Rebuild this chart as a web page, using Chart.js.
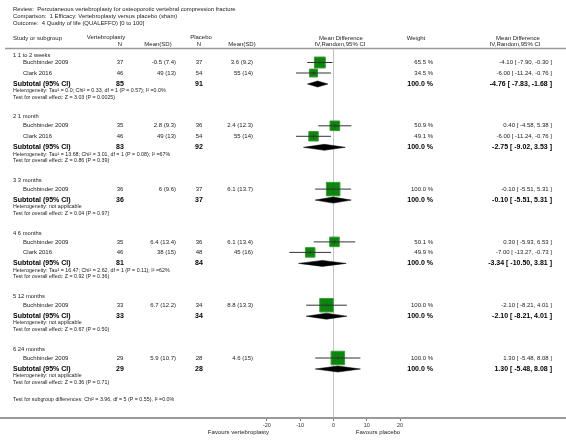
<!DOCTYPE html>
<html>
<head>
  <title>Vertebroplasty forest plot</title>
  <script src="https://cdn.jsdelivr.net/npm/chart.js"></script>
  <style>
    html, body { margin: 0; padding: 0; background: #fff; }
    canvas { display: block; }
  </style>
</head>
<body>
  <canvas id="forest" width="566" height="441"></canvas>

  <script>
    // data
    var titleLines = [
      "Review:  Percutaneous vertebroplasty for osteoporotic vertebral compression fracture",
      "Comparison:  1 Efficacy: Vertebroplasty versus placebo (sham)",
      "Outcome:  4 Quality of life (QUALEFFO) [0 to 100]"
    ];
    var groupLabels = ["1 1 to 2 weeks", "2 1 month", "3 3 months", "4 6 months", "5 12 months", "6 24 months"];

    var studyNames = ["Buchbinder 2009", "Clark 2016", "Buchbinder 2009", "Clark 2016", "Buchbinder 2009",
                      "Buchbinder 2009", "Clark 2016", "Buchbinder 2009", "Buchbinder 2009"];
    var studyGroup = [0, 0, 1, 1, 2, 3, 3, 4, 5];
    var vertN = [37, 46, 35, 46, 36, 35, 46, 33, 29];
    var vertMeanSD = ["-0.5 (7.4)", "49 (13)", "2.8 (9.3)", "49 (13)", "6 (9.6)", "6.4 (13.4)", "38 (15)", "6.7 (12.2)", "5.9 (10.7)"];
    var placN = [37, 54, 36, 54, 37, 36, 48, 34, 28];
    var placMeanSD = ["3.6 (9.2)", "55 (14)", "2.4 (12.3)", "55 (14)", "6.1 (13.7)", "6.1 (13.4)", "45 (16)", "8.8 (13.3)", "4.6 (15)"];
    var weights = [65.5, 34.5, 50.9, 49.1, 100.0, 50.1, 49.9, 100.0, 100.0];
    var md = [-4.10, -6.00, 0.40, -6.00, -0.10, 0.30, -7.00, -2.10, 1.30];
    var mdLow = [-7.90, -11.24, -4.58, -11.24, -5.51, -5.93, -13.27, -8.21, -5.48];
    var mdHigh = [-0.30, -0.76, 5.38, -0.76, 5.31, 6.53, -0.73, 4.01, 8.08];

    var subVertN = [85, 83, 36, 81, 33, 29];
    var subPlacN = [91, 92, 37, 84, 34, 28];
    var subMd = [-4.76, -2.75, -0.10, -3.34, -2.10, 1.30];
    var subLow = [-7.83, -9.02, -5.51, -10.50, -8.21, -5.48];
    var subHigh = [-1.68, 3.53, 5.31, 3.81, 4.01, 8.08];
    var heterogeneity = [
      "Heterogeneity: Tau² = 0.0; Chi² = 0.33, df = 1 (P = 0.57); I² =0.0%",
      "Heterogeneity: Tau² = 13.68; Chi² = 3.01, df = 1 (P = 0.08); I² =67%",
      "Heterogeneity: not applicable",
      "Heterogeneity: Tau² = 16.47; Chi² = 2.62, df = 1 (P = 0.11); I² =62%",
      "Heterogeneity: not applicable",
      "Heterogeneity: not applicable"
    ];
    var overallEffect = [
      "Test for overall effect: Z = 3.03 (P = 0.0025)",
      "Test for overall effect: Z = 0.86 (P = 0.39)",
      "Test for overall effect: Z = 0.04 (P = 0.97)",
      "Test for overall effect: Z = 0.92 (P = 0.36)",
      "Test for overall effect: Z = 0.67 (P = 0.50)",
      "Test for overall effect: Z = 0.36 (P = 0.71)"
    ];
    var subgroupTest = "Test for subgroup differences: Chi² = 3.96, df = 5 (P = 0.55), I² =0.0%";
    var xTicks = [-20, -10, 0, 10, 20];
    var favoursLeft = "Favours vertebroplasty";
    var favoursRight = "Favours placebo";

    // row layout (pixel rows, y scale maps 1:1)
    var labelY = [], studyY = [], subY = [], hetY = [], testY = [];
    var y = 55;
    for (var g = 0; g < groupLabels.length; g++) {
      labelY.push(y);
      y += (g === 0 ? 7.5 : 9);
      var first = true;
      for (var s = 0; s < studyGroup.length; s++) {
        if (studyGroup[s] !== g) continue;
        if (!first) y += 10.5;
        studyY[s] = y;
        first = false;
      }
      y += 11; subY.push(y);
      y += 6.8; hetY.push(y);
      y += 6.4; testY.push(y);
      y += 19.6;
    }
    var subgroupY = y - 1.8;

    var fmt = function(v) { return v.toFixed(2); };
    var ciText = function(m, l, h) { return fmt(m) + " [ " + fmt(l) + ", " + fmt(h) + " ]"; };

    // datasets
    var datasets = [];
    datasets.push({
      label: "studies",
      data: md.map(function(v, i) { return { x: v, y: studyY[i] }; }),
      showLine: false,
      pointStyle: "rect",
      pointRadius: weights.map(function(w) { return 13.5 * Math.sqrt(w / 100) / Math.SQRT2; }),
      backgroundColor: "#0b870b",
      borderColor: "#3a9c3a",
      borderWidth: 1,
      order: 3
    });
    datasets.push({
      label: "centres",
      data: md.map(function(v, i) { return { x: v, y: studyY[i] }; }),
      showLine: false,
      pointStyle: "line",
      rotation: 90,
      pointRadius: 1.6,
      borderColor: "#333",
      borderWidth: 0.8,
      order: 0
    });
    for (var i = 0; i < md.length; i++) {
      datasets.push({
        label: "ci" + i,
        data: [{ x: mdLow[i], y: studyY[i] }, { x: mdHigh[i], y: studyY[i] }],
        borderColor: "#333",
        borderWidth: 1,
        pointRadius: 0,
        order: 1
      });
    }
    for (var k = 0; k < subMd.length; k++) {
      var yc = subY[k];
      datasets.push({
        label: "diamond" + k,
        data: [{ x: subLow[k], y: yc }, { x: subMd[k], y: yc - 3 }, { x: subHigh[k], y: yc },
               { x: subMd[k], y: yc + 3 }, { x: subLow[k], y: yc }],
        borderColor: "#000",
        backgroundColor: "#000",
        borderWidth: 0.5,
        pointRadius: 0,
        tension: 0,
        fill: "shape",
        order: 2
      });
    }

    // 0 sits at x = 333.5 px, 10 units = 33.3 px
    var ppu = 3.33;
    var xMin = -333.5 / ppu;
    var xMax = xMin + 566 / ppu;
    var FONT = '"Liberation Sans", Arial, sans-serif';

    function txt(ctx, s, x, yy, align, size, bold, color) {
      ctx.font = (bold ? "bold " : "") + size + "px " + FONT;
      ctx.textAlign = align;
      ctx.textBaseline = "middle";
      ctx.fillStyle = color || "#222";
      ctx.fillText(s, x, yy);
    }

    var textPlugin = {
      id: "forestText",
      afterDraw: function(chart) {
        var ctx = chart.ctx;
        var xs = chart.scales.x;
        ctx.save();
        txt(ctx, titleLines[0], 13, 9, "left", 5.9);
        txt(ctx, titleLines[1], 13, 16, "left", 5.9);
        txt(ctx, titleLines[2], 13, 23, "left", 5.9);

        // header
        txt(ctx, "Study or subgroup", 13, 38, "left", 6);
        txt(ctx, "Vertebroplasty", 106, 37.5, "center", 6);
        txt(ctx, "N", 120, 44, "center", 6);
        txt(ctx, "Mean(SD)", 158, 44, "center", 6);
        txt(ctx, "Placebo", 201, 37.5, "center", 6);
        txt(ctx, "N", 199, 44, "center", 6);
        txt(ctx, "Mean(SD)", 242, 44, "center", 6);
        txt(ctx, "Mean Difference", 341, 38, "center", 6);
        txt(ctx, "IV,Random,95% CI", 340, 44, "center", 6);
        txt(ctx, "Weight", 416, 38, "center", 6);
        txt(ctx, "Mean Difference", 518, 38, "center", 6);
        txt(ctx, "IV,Random,95% CI", 515, 44, "center", 6);
        ctx.strokeStyle = "#9a9a9a";
        ctx.lineWidth = 1.5;
        ctx.beginPath();
        ctx.moveTo(5, 48.5);
        ctx.lineTo(566, 48.5);
        ctx.stroke();

        for (var g = 0; g < groupLabels.length; g++) {
          txt(ctx, groupLabels[g], 13, labelY[g], "left", 5.8);
          txt(ctx, "Subtotal (95% CI)", 13, subY[g], "left", 7, true, "#000");
          txt(ctx, String(subVertN[g]), 120, subY[g], "center", 7, true, "#000");
          txt(ctx, String(subPlacN[g]), 199, subY[g], "center", 7, true, "#000");
          txt(ctx, "100.0 %", 433, subY[g], "right", 7, true, "#000");
          txt(ctx, ciText(subMd[g], subLow[g], subHigh[g]), 552, subY[g], "right", 7, true, "#000");
          txt(ctx, heterogeneity[g], 13, hetY[g], "left", 5.3);
          txt(ctx, overallEffect[g], 13, testY[g], "left", 5.3);
        }
        for (var s = 0; s < studyNames.length; s++) {
          var ys = studyY[s];
          txt(ctx, studyNames[s], 23, ys, "left", 6);
          txt(ctx, String(vertN[s]), 120, ys, "center", 6);
          txt(ctx, vertMeanSD[s], 176, ys, "right", 6);
          txt(ctx, String(placN[s]), 199, ys, "center", 6);
          txt(ctx, placMeanSD[s], 253, ys, "right", 6);
          txt(ctx, weights[s].toFixed(1) + " %", 433, ys, "right", 6);
          txt(ctx, ciText(md[s], mdLow[s], mdHigh[s]), 552, ys, "right", 6);
        }
        txt(ctx, subgroupTest, 13, subgroupY, "left", 5.3);

        txt(ctx, favoursLeft, xs.getPixelForValue(-20) + 2, 432, "right", 6);
        txt(ctx, favoursRight, xs.getPixelForValue(10) - 11, 432, "left", 6);
        ctx.restore();
      }
    };

    var forestChart = new Chart("forest", {
      type: "line",
      data: { datasets: datasets },
      options: {
        responsive: false,
        animation: false,
        devicePixelRatio: 1,
        events: [],
        layout: { autoPadding: false, padding: { top: 49, left: 0, right: 0, bottom: 0 } },
        plugins: {
          legend: { display: false },
          tooltip: { enabled: false }
        },
        scales: {
          x: {
            type: "linear",
            position: "bottom",
            min: xMin,
            max: xMax,
            afterBuildTicks: function(scale) {
              scale.ticks = xTicks.map(function(v) { return { value: v }; });
            },
            afterFit: function(scale) {
              scale.height = 23;
              scale.paddingLeft = 0;
              scale.paddingRight = 0;
            },
            border: { display: true, color: "#9a9a9a", width: 2 },
            grid: {
              drawOnChartArea: true,
              color: function(c) { return c.tick && c.tick.value === 0 ? "#c4c4c4" : "rgba(0,0,0,0)"; },
              tickColor: "#777",
              tickLength: 3
            },
            ticks: {
              font: { size: 5.5, family: FONT },
              color: "#333",
              padding: 1,
              maxRotation: 0
            }
          },
          y: {
            type: "linear",
            display: false,
            min: 49,
            max: 418,
            reverse: true
          }
        }
      },
      plugins: [textPlugin]
    });
  </script>
</body>
</html>
